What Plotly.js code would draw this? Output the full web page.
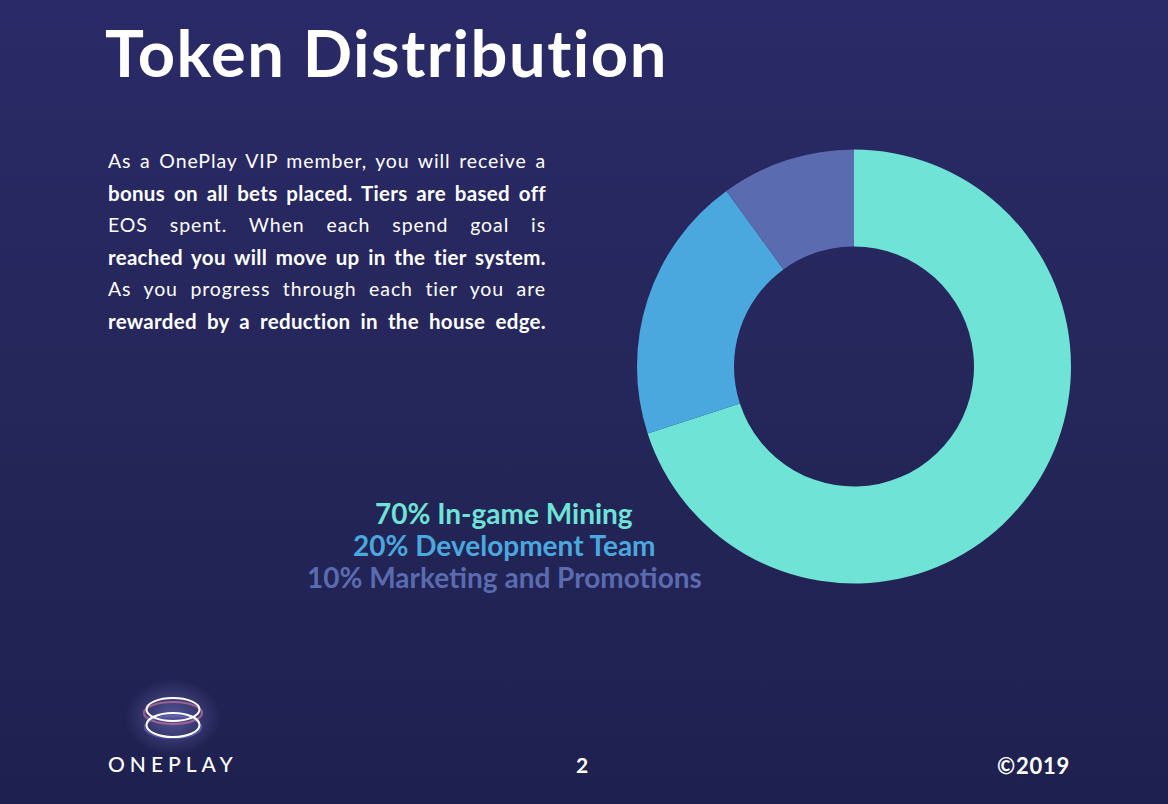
<!DOCTYPE html>
<html>
<head>
<meta charset="utf-8">
<script src="https://cdn.plot.ly/plotly-3.0.1.min.js"></script>
<style>
  html, body { margin:0; padding:0; width:1168px; height:804px; overflow:hidden; }
  body { background: linear-gradient(180deg, #2a2a68 0%, #252659 50%, #1e2150 100%); position:relative; font-family: Lato, "Noto Sans", sans-serif; }
  #chart { position:absolute; left:0; top:0; width:1168px; height:804px; }
  .title { position:absolute; left:105px; top:13px; color:#fff; font-weight:700; font-size:65px; letter-spacing:1.5px; white-space:nowrap; }
  .para { position:absolute; left:108px; top:145px; width:438px; color:#fff; }
  .para div { height:32px; line-height:32px; text-align:justify; text-align-last:justify; white-space:nowrap; }
  .para .n { font-weight:400; font-size:19.5px; letter-spacing:0.9px; }
  .para .b { font-weight:700; font-size:20.5px; letter-spacing:0.3px; }
  .brand { position:absolute; left:108px; top:751px; color:#fff; font-size:21px; letter-spacing:5px; font-weight:500; }
  .page { position:absolute; left:576px; top:752px; color:#fff; font-weight:700; font-size:21px; }
  .copy { position:absolute; left:997px; top:752px; color:#fff; font-weight:700; font-size:22px; letter-spacing:0.8px; }
  svg.logo { position:absolute; left:123px; top:665px; }
</style>
</head>
<body>
<div id="chart"></div>
<div class="title">Token Distribution</div>
<div class="para" id="para"></div>
<svg class="logo" width="100" height="90" viewBox="0 0 100 90">
  <defs>
    <radialGradient id="glow" cx="50%" cy="50%" r="50%">
      <stop offset="0%" stop-color="#8a86d8" stop-opacity="0.5"/>
      <stop offset="100%" stop-color="#8a86d8" stop-opacity="0"/>
    </radialGradient>
  </defs>
  <ellipse cx="50" cy="52" rx="48" ry="38" fill="url(#glow)"/>
  <ellipse cx="50" cy="48" rx="29" ry="11" fill="none" stroke="#d2719f" stroke-width="2.2" opacity="0.65"/>
  <ellipse cx="50" cy="62" rx="28" ry="11" fill="none" stroke="#6f6cd0" stroke-width="2.2" opacity="0.6"/>
  <ellipse cx="50" cy="44.5" rx="26.5" ry="11.5" fill="none" stroke="#ffffff" stroke-width="2"/>
  <ellipse cx="50" cy="60" rx="26.5" ry="12" fill="none" stroke="#ffffff" stroke-width="2"/>
</svg>
<div class="brand">ONEPLAY</div>
<div class="page">2</div>
<div class="copy">©2019</div>
<script>
// ---- data ----
const labels = ["In-game Mining", "Development Team", "Marketing and Promotions"];
const values = [70, 20, 10];
const colors = ["#6ee3d6", "#4ba8de", "#5b6bb0"];
const paraLines = [
  ["n", "As a OnePlay VIP member, you will receive a"],
  ["b", "bonus on all bets placed. Tiers are based off"],
  ["n", "EOS spent. When each spend goal is"],
  ["b", "reached you will move up in the tier system."],
  ["n", "As you progress through each tier you are"],
  ["b", "rewarded by a reduction in the house edge."]
];

const para = document.getElementById("para");
paraLines.forEach(([cls, t]) => {
  const d = document.createElement("div");
  d.className = cls;
  d.textContent = t;
  para.appendChild(d);
});

const W = 1168, H = 804;
const trace = {
  type: "pie",
  labels: labels,
  values: values,
  marker: { colors: colors, line: { width: 0 } },
  hole: 0.553,
  sort: false,
  direction: "clockwise",
  rotation: 0,
  textinfo: "none",
  hoverinfo: "skip",
  domain: { x: [637 / W, 1071 / W], y: [(H - 583.5) / H, (H - 149.5) / H] }
};

const annotations = labels.map((lab, i) => ({
  xref: "paper", yref: "paper",
  x: 504 / W, y: 1 - (513 + 32 * i) / H,
  xanchor: "center", yanchor: "middle",
  text: "<b>" + values[i] + "% " + lab + "</b>",
  showarrow: false,
  font: { family: "Lato, 'Noto Sans', sans-serif", size: 28, color: colors[i] }
}));

Plotly.newPlot("chart", [trace], {
  width: W, height: H,
  margin: { l: 0, r: 0, t: 0, b: 0 },
  paper_bgcolor: "rgba(0,0,0,0)",
  plot_bgcolor: "rgba(0,0,0,0)",
  showlegend: false,
  annotations: annotations
}, { displayModeBar: false, staticPlot: true });
</script>
</body>
</html>
